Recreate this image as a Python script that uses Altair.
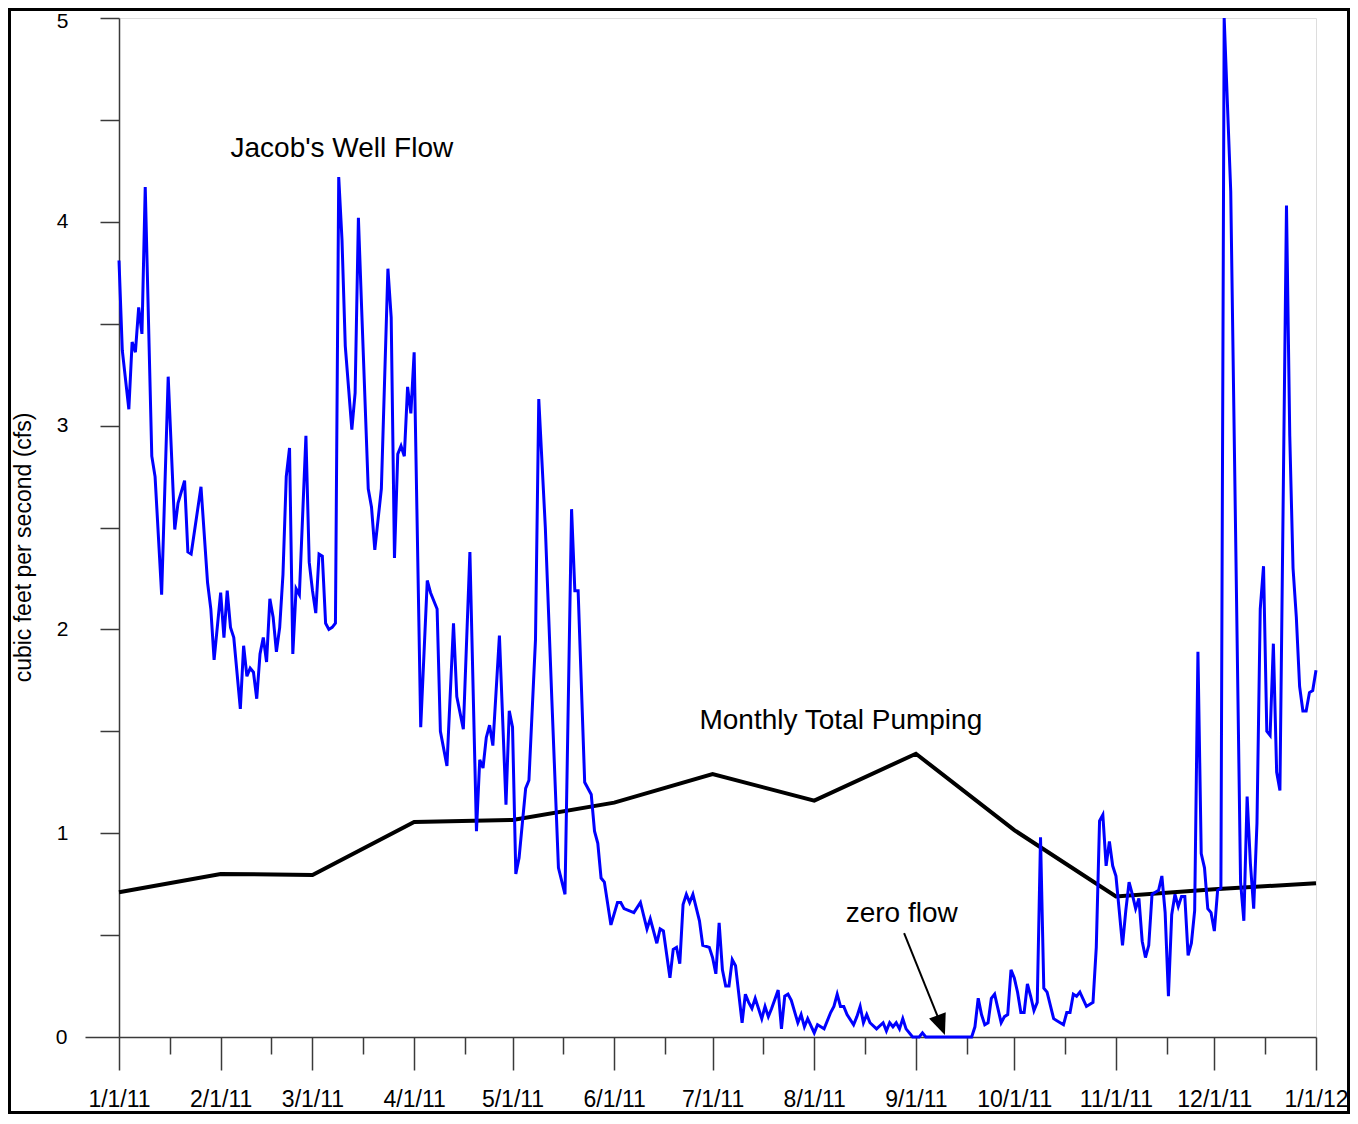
import altair as alt
import pandas as pd
from datetime import datetime, timedelta

# ---------------- data ----------------
# Jacob's Well flow: day offset from 1/1/11 and flow in cfs
flow_day = [
    0, 1, 3, 4, 5, 6, 7, 8, 10, 11, 13, 15, 17, 18, 20, 21, 22, 25, 27, 28, 29,            # Jan
    31, 32, 33, 34, 35, 37, 38, 39, 40, 41, 42, 43, 44, 45, 46, 47, 48, 49, 50, 51, 52,
    53, 54, 55, 57, 58,                                                                      # Feb
    59, 60, 61, 62, 63, 64, 65, 66, 67, 68, 69, 71, 72, 73, 74, 76, 77, 78, 80, 82, 83,
    84, 85, 86, 87, 88, 89,                                                                  # Mar
    90, 92, 94, 95, 97, 98, 100, 102, 103, 105, 107, 109, 110, 111, 112, 113, 114, 116,
    118, 119,                                                                                # Apr
    120, 121, 122, 124, 125, 127, 128, 130, 132, 134, 136, 138, 139, 140, 142, 144, 145,
    146, 147, 148, 150,                                                                      # May
    152, 153, 154, 157, 159, 161, 162, 164, 165, 166, 168, 169, 170, 171, 172, 173, 174,
    175, 177, 178, 180,                                                                      # Jun
    181, 182, 183, 184, 185, 186, 187, 188, 190, 191, 192, 193, 194, 196, 197, 198, 199,
    201, 202, 203, 204, 205, 207, 208, 209, 210,                                             # Jul
    212, 213, 214, 215, 217, 218, 219, 220, 221, 222, 224, 225, 226, 227, 228, 229, 231,
    233, 234, 235, 236, 237, 238, 239, 240, 242,                                             # Aug
    244, 245, 246, 260, 261, 262, 263, 264, 265, 266, 267, 269, 270, 271, 272,              # Sep
    273, 274, 275, 276, 277, 278, 279, 280, 281, 282, 283, 285, 286, 288, 289, 290, 291,
    292, 293, 295, 297, 298, 299, 300, 301, 302, 303,                                        # Oct
    304, 305, 306, 307, 308, 309, 310, 311, 312, 313, 314, 315, 317, 318, 319, 320, 321,
    322, 323, 324, 325, 326, 327, 328, 329, 330, 331, 332, 333,                              # Nov
    334, 335, 336, 337, 339, 342, 343, 344, 345, 346, 347, 348, 349, 350, 351, 352, 353,
    354, 356, 357, 358, 359, 360, 361, 362, 363, 364, 365,                                   # Dec
]
flow_cfs = [
    3.81, 3.37, 3.08, 3.41, 3.36, 3.58, 3.45, 4.17, 2.85, 2.75, 2.17, 3.24, 2.49, 2.62, 2.73,
    2.38, 2.37, 2.70, 2.23, 2.10, 1.85,
    2.18, 1.96, 2.19, 2.01, 1.96, 1.61, 1.92, 1.77, 1.81, 1.79, 1.66, 1.88, 1.96, 1.84, 2.15,
    2.06, 1.89, 2.01, 2.27, 2.75, 2.89, 1.88, 2.20, 2.17, 2.95, 2.33,
    2.19, 2.08, 2.37, 2.36, 2.03, 2.00, 2.01, 2.03, 4.22, 3.91, 3.39, 2.98, 3.16, 4.02, 3.57,
    2.69, 2.60, 2.39, 2.69, 3.77, 3.53, 2.35, 2.86, 2.90, 2.85, 3.19, 3.06,
    3.36, 1.52, 2.24, 2.18, 2.10, 1.50, 1.33, 2.03, 1.67, 1.51, 2.38, 1.01, 1.36, 1.32, 1.47,
    1.53, 1.43, 1.97, 1.14, 1.60,
    1.52, 0.80, 0.88, 1.22, 1.26, 1.95, 3.13, 2.50, 1.65, 0.83, 0.70, 2.59, 2.19, 2.19, 1.25,
    1.19, 1.01, 0.95, 0.78, 0.76, 0.55,
    0.66, 0.66, 0.63, 0.61, 0.66, 0.53, 0.58, 0.46, 0.53, 0.52, 0.29, 0.43, 0.44, 0.36, 0.65,
    0.70, 0.66, 0.70, 0.57, 0.45, 0.44,
    0.39, 0.31, 0.56, 0.33, 0.25, 0.25, 0.38, 0.35, 0.07, 0.21, 0.17, 0.14, 0.19, 0.09, 0.15,
    0.10, 0.14, 0.23, 0.04, 0.20, 0.21, 0.18, 0.07, 0.11, 0.05, 0.09,
    0.02, 0.06, 0.05, 0.04, 0.12, 0.15, 0.21, 0.15, 0.15, 0.11, 0.06, 0.10, 0.15, 0.07, 0.11,
    0.07, 0.04, 0.07, 0.03, 0.07, 0.05, 0.07, 0.04, 0.09, 0.04, 0.00,
    0.00, 0.02, 0.00, 0.00, 0.05, 0.19, 0.11, 0.06, 0.07, 0.19, 0.21, 0.07, 0.10, 0.11, 0.33,
    0.29, 0.22, 0.12, 0.12, 0.26, 0.20, 0.13, 0.17, 0.98, 0.24, 0.22, 0.09, 0.08, 0.06, 0.12,
    0.12, 0.21, 0.20, 0.22, 0.15, 0.17, 0.44, 1.06, 1.09, 0.84, 0.96, 0.84,
    0.79, 0.62, 0.45, 0.62, 0.76, 0.70, 0.63, 0.68, 0.47, 0.39, 0.45, 0.70, 0.72, 0.79, 0.61,
    0.20, 0.60, 0.70, 0.64, 0.69, 0.69, 0.40, 0.46, 0.62, 1.89, 0.90, 0.83, 0.63, 0.61,
    0.52, 0.72, 0.73, 5.00, 4.15, 0.76, 0.57, 1.18, 0.85, 0.63, 1.05, 2.10, 2.31, 1.50, 1.48,
    1.93, 1.30, 1.21, 4.08, 2.95, 2.30, 2.06, 1.72, 1.60, 1.60, 1.69, 1.70, 1.80,
]

# Monthly total pumping (cfs), plotted at the first of each month
pump_date = ["2011-01-01", "2011-02-01", "2011-03-01", "2011-04-01", "2011-05-01",
             "2011-06-01", "2011-07-01", "2011-08-01", "2011-09-01", "2011-10-01",
             "2011-11-01", "2011-12-01", "2012-01-01"]
pump_cfs = [0.71, 0.80, 0.795, 1.055, 1.065, 1.15, 1.29, 1.16, 1.39, 1.015, 0.69, 0.725, 0.755]

# Annotations
ann_text = ["Jacob's Well Flow", "Monthly Total Pumping", "zero flow"]
ann_day = [34.0, 177.0, 221.6]
ann_cfs = [4.32, 1.51, 0.565]

arrow_day = [239.4, 250.7]
arrow_cfs = [0.51, 0.058]
head_day = [250.7]
head_cfs = [0.058]

# Axis ticks
y_ticks = [0, 0.5, 1, 1.5, 2, 2.5, 3, 3.5, 4, 4.5, 5]


def iso(d):
    return (datetime(2011, 1, 1) + timedelta(days=d)).strftime("%Y-%m-%dT%H:%M:%SZ")


flow_df = pd.DataFrame({"date": [iso(d) for d in flow_day], "cfs": flow_cfs})
pump_df = pd.DataFrame({"date": [p + "T00:00:00Z" for p in pump_date], "cfs": pump_cfs})
ann_df = pd.DataFrame({"date": [iso(d) for d in ann_day], "cfs": ann_cfs, "text": ann_text})
arrow_df = pd.DataFrame({"date": [iso(arrow_day[0])], "date2": [iso(arrow_day[1])],
                         "cfs": [arrow_cfs[0]], "cfs2": [arrow_cfs[1]]})
head_df = pd.DataFrame({"date": [iso(d) for d in head_day], "cfs": head_cfs})

W, H = 1197, 1019
PAD = {"left": 111, "top": 10, "right": 34, "bottom": 77}
FONT = "Liberation Sans"
AX = "#3a3a3a"

month_vals = []
for i in range(13):
    y, m = (2011, i + 1) if i < 12 else (2012, 1)
    month_vals.append(alt.DateTime(year=y, month=m, date=1, utc=True))
mid_vals = [alt.DateTime(year=2011, month=m, date=16, hours=12, utc=True) for m in range(1, 13)]

x_scale = alt.Scale(type="utc", domain=[month_vals[0], month_vals[-1]])
y_scale = alt.Scale(domain=[0, 5], nice=False, zero=True)

x_axis = alt.Axis(
    values=month_vals + mid_vals,
    labelExpr="utcdate(datum.value) == 1 ? utcFormat(datum.value, '%-m/%-d/%y') : ''",
    tickSize={"condition": {"test": "utcdate(datum.value) == 1", "value": 33}, "value": 17},
    labelPadding=18, labelFontSize=23, labelFont=FONT, labelColor="black",
    labelOverlap=False, labelFlush=False, labelBaseline="top",
    domainColor=AX, domainWidth=1.5, tickColor=AX, tickWidth=1.5,
    grid=False, title="",
)
y_axis = alt.Axis(
    values=y_ticks,
    labelExpr="datum.value % 1 == 0 ? format(datum.value, 'd') : ''",
    tickSize={"condition": {"test": "datum.value == 0", "value": 34}, "value": 19},
    labelPadding={"condition": {"test": "datum.value == 0", "value": 18}, "value": 32},
    labelOffset={"condition": {"test": "datum.value == 5", "value": 3}, "value": 0},
    labelFontSize=21, labelFont=FONT, labelColor="black",
    labelOverlap=False, labelFlush=False,
    domainColor=AX, domainWidth=1.5, tickColor=AX, tickWidth=1.5,
    grid=False,
    title="cubic feet per second (cfs)", titleFont=FONT, titleFontSize=23,
    titleFontWeight="normal", titleColor="black", titleX=-84, titleY=529,
)

x_enc = alt.X("date:T", scale=x_scale, axis=x_axis)
y_enc = alt.Y("cfs:Q", scale=y_scale, axis=y_axis)

pump = alt.Chart(pump_df).mark_line(color="black", strokeWidth=4).encode(x=x_enc, y=y_enc)
flow = alt.Chart(flow_df).mark_line(color="#0000ff", strokeWidth=3).encode(x=x_enc, y=y_enc)
labels = alt.Chart(ann_df).mark_text(
    align="left", baseline="alphabetic", fontSize=28, font=FONT, color="black"
).encode(x=x_enc, y=y_enc, text="text:N")
arrow = alt.Chart(arrow_df).mark_rule(color="black", strokeWidth=2).encode(
    x=x_enc, y=y_enc, x2="date2:T", y2="cfs2:Q")
head = alt.Chart(head_df).mark_point(
    shape="M0,1L-0.85,-1L0.85,-1Z", filled=True, color="black", size=441, angle=339, opacity=1
).encode(x=x_enc, y=y_enc)
frame = alt.Chart(pd.DataFrame({"k": [0]})).mark_rect(
    filled=False, stroke="black", strokeWidth=3
).encode(
    x=alt.value(-PAD["left"] + 1.5), x2=alt.value(W + PAD["right"] - 1.5),
    y=alt.value(-PAD["top"] + 1.5), y2=alt.value(H + PAD["bottom"] - 1.5),
)

chart = alt.layer(pump, flow, labels, arrow, head, frame).properties(
    width=W, height=H,
    padding=PAD,
    autosize=alt.AutoSizeParams(type="none"),
).configure_view(strokeWidth=0).configure(font=FONT, background="white")

chart.save("out.html", embed_options={"renderer": "svg", "actions": False})
